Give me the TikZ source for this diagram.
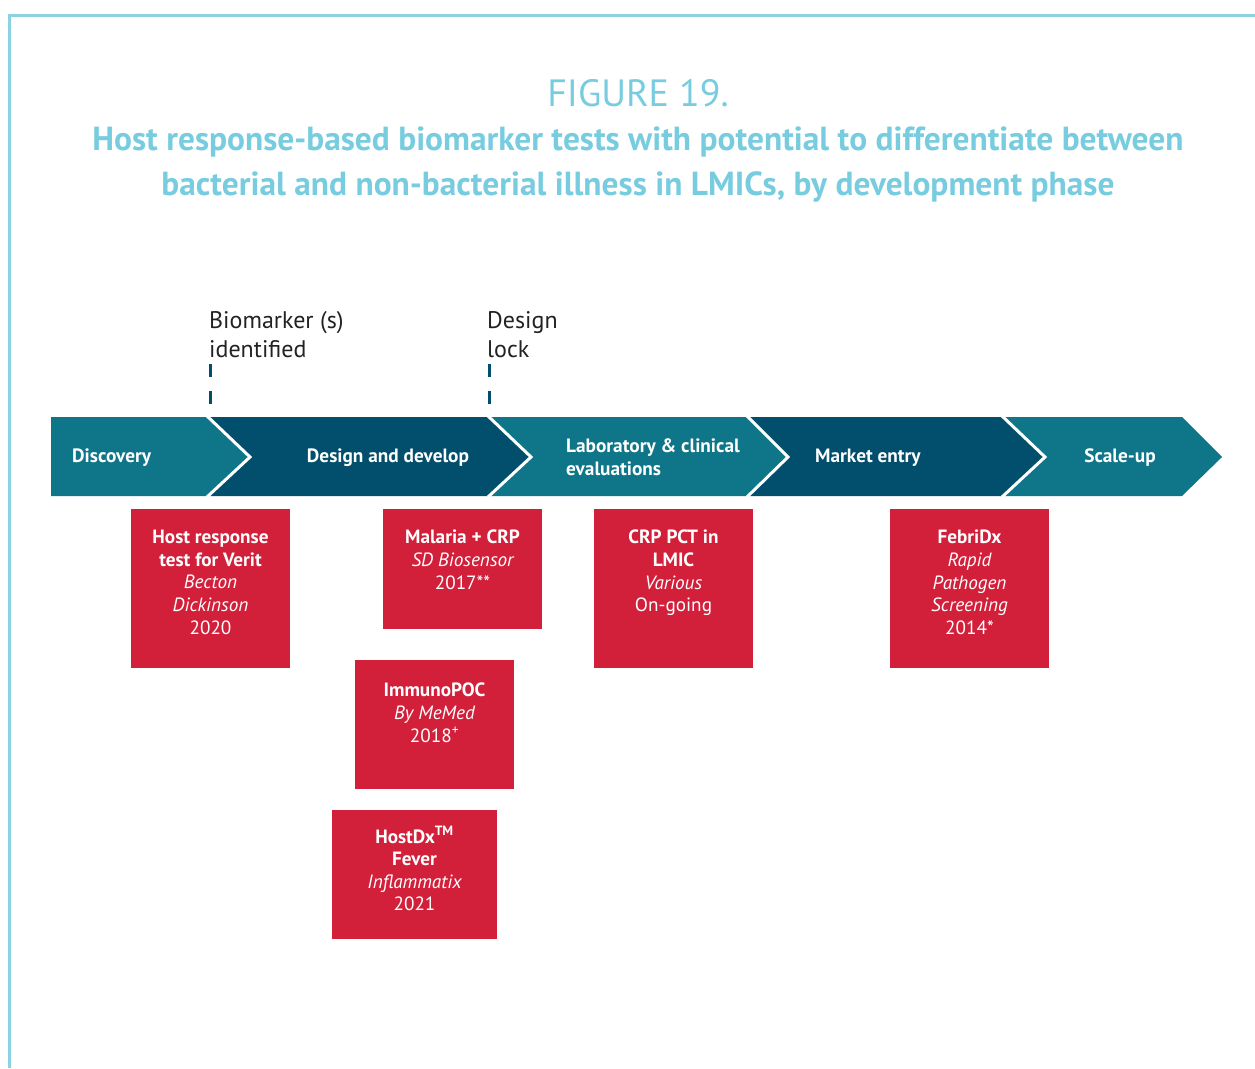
\documentclass[tikz,border=0pt]{standalone}
\usepackage{fontspec}
\setmainfont{PT Sans}
\definecolor{frameblue}{HTML}{8BD3E2}
\definecolor{titleblue}{HTML}{78CCDF}
\definecolor{tealc}{HTML}{0F7689}
\definecolor{darkc}{HTML}{024E6D}
\definecolor{redc}{HTML}{D21F3A}
\definecolor{txtc}{HTML}{222222}
\begin{document}
\begin{tikzpicture}[x=1pt,y=-1pt,
  phase/.style={text=white,font=\fontsize{19.3}{23}\selectfont\bfseries,inner sep=0pt},
  redbox/.style={fill=redc,draw=none,text=white,anchor=north west,inner sep=0pt},
  boxtext/.style={text=white,align=center,anchor=north,inner sep=0pt,font=\fontsize{19.2}{22.6}\selectfont},
  mile/.style={text=txtc,align=left,anchor=north west,inner sep=0pt,font=\fontsize{24}{29.5}\selectfont},
  milestone/.style={draw=darkc,line width=3pt,dash pattern=on 13pt off 14pt},
  sep/.style={draw=white,line width=3pt}]
\useasboundingbox (0,0) rectangle (1255,1068);
% frame
\draw[frameblue,line width=3pt] (1255,15.5) -- (9.5,15.5) -- (9.5,1068);
% titles
\node[text=titleblue,font=\fontsize{38}{44}\selectfont] (fig) at (638,93) {FIGURE 19.};
\node[text=titleblue,font=\fontsize{33.4}{45}\selectfont\bfseries,align=center] (sub) at (638,165)
  {Host response-based biomarker tests with potential to differentiate between\\bacterial and non-bacterial illness in LMICs, by development phase};
% chevrons
\fill[tealc] (51,417) -- (207,417) -- (250,457) -- (207,496) -- (51,496) -- cycle;
\fill[darkc] (207,417) -- (488,417) -- (531,457) -- (488,496) -- (207,496) -- (250,457) -- cycle;
\fill[tealc] (488,417) -- (747,417) -- (788,457) -- (747,496) -- (488,496) -- (531,457) -- cycle;
\fill[darkc] (747,417) -- (1002,417) -- (1045,457) -- (1002,496) -- (747,496) -- (788,457) -- cycle;
\fill[tealc] (1002,417) -- (1182,417) -- (1222,457) -- (1182,496) -- (1002,496) -- (1045,457) -- cycle;
\draw[sep] (207,416) -- (250,457) -- (207,497);
\draw[sep] (488,416) -- (531,457) -- (488,497);
\draw[sep] (747,416) -- (788,457) -- (747,497);
\draw[sep] (1002,416) -- (1045,457) -- (1002,497);
% phase labels
\node[phase,anchor=west] (p1) at (72,458) {Discovery};
\node[phase] (p2) at (388,458) {Design and develop};
\node[phase,anchor=west,align=left] (p3) at (566,457) {Laboratory \& clinical\\evaluations};
\node[phase,anchor=west] (p4) at (815,458) {Market entry};
\node[phase] (p5) at (1120,458) {Scale-up};
% milestones
\node[mile] (m1) at (209,311) {Biomarker (s)\\identified};
\node[mile] (m2) at (487,311) {Design\\lock};
\coordinate (m1a) at (210,364); \coordinate (m1b) at (210,406);
\coordinate (m2a) at (489,364); \coordinate (m2b) at (489,406);
\draw[milestone] (m1a) -- (m1b);
\draw[milestone] (m2a) -- (m2b);
% red boxes
\node[redbox,minimum width=159pt,minimum height=159pt] (b1) at (131,509) {};
\node[boxtext] (t1) at (210.5,530) {\bfseries Host response\\\bfseries test for Verit\\\itshape Becton\\\itshape Dickinson\\2020};
\node[redbox,minimum width=159pt,minimum height=120pt] (b2) at (383,509) {};
\node[boxtext] (t2) at (462.5,530) {\bfseries Malaria + CRP\\\itshape SD Biosensor\\2017**};
\node[redbox,minimum width=159pt,minimum height=129pt] (b3) at (355,660) {};
\node[boxtext] (t3) at (434.5,683) {\bfseries ImmunoPOC\\\itshape By MeMed\\2018\textsuperscript{+}};
\node[redbox,minimum width=165pt,minimum height=129pt] (b4) at (332,810) {};
\node[boxtext] (t4) at (414.5,826) {\bfseries HostDx\textsuperscript{TM}\\\bfseries Fever\\\itshape Inflammatix\\2021};
\node[redbox,minimum width=159pt,minimum height=159pt] (b5) at (594,509) {};
\node[boxtext] (t5) at (673.5,530) {\bfseries CRP PCT in\\\bfseries LMIC\\\itshape Various\\On-going};
\node[redbox,minimum width=159pt,minimum height=159pt] (b6) at (890,509) {};
\node[boxtext] (t6) at (969.5,530) {\bfseries FebriDx\\\itshape Rapid\\\itshape Pathogen\\\itshape Screening\\2014*};
\end{tikzpicture}
\end{document}
